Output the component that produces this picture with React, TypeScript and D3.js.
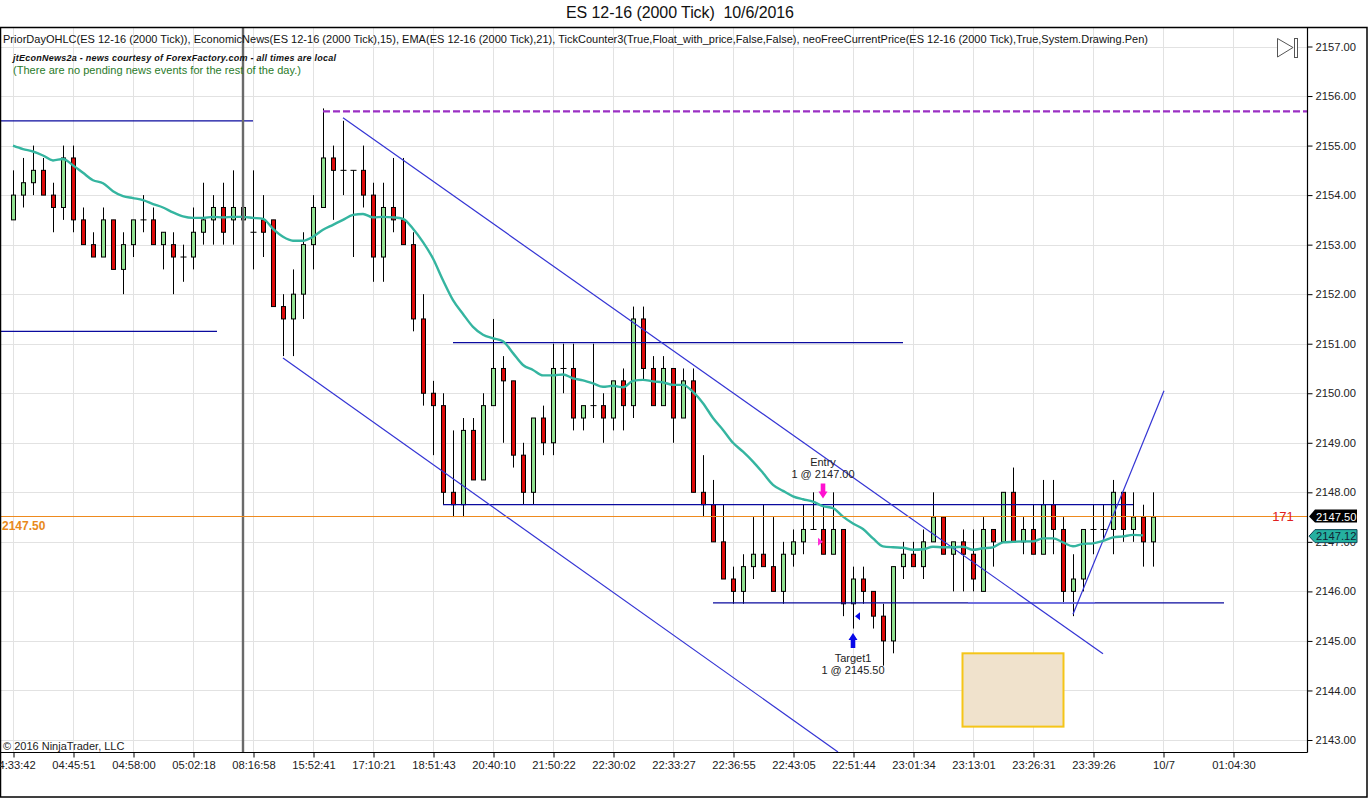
import React, { useEffect, useRef } from "react";
import * as d3 from "d3";

const opens = [2153.5,2154,2154.25,2154.5,2154,2153.75,2154.75,2153.5,2153,2152.75,2153.5,2152.5,2153,2153.5,2153.5,2153,2153,2152.75,2152.75,2153.25,2153.5,2153.75,2153.5,2153.5,2153.25,2153.5,2153.5,2151.75,2151.5,2152,2153,2153.75,2154.75,2154.5,2154.5,2154.5,2154,2152.75,2153.75,2153.5,2153,2151.5,2150,2149.75,2148,2147.75,2149.25,2148.25,2149.75,2150.5,2150.25,2148.75,2148,2149.5,2149,2150.5,2150.5,2149.5,2149.75,2149.75,2149.5,2150.25,2149.75,2151.5,2150.5,2149.75,2150.5,2149.5,2150.25,2148,2147.75,2147,2146.25,2146,2146.5,2146.75,2146.5,2146,2146.75,2147,2147.25,2147.25,2146.75,2147.25,2145.75,2146.25,2146,2145.5,2145,2146.5,2146.75,2146.5,2147,2147.5,2146.75,2147,2146.75,2146,2147.25,2147,2148,2147,2147.25,2146.75,2147.75,2147.25,2146,2146.25,2147.25,2147.25,2147.25,2148,2147.25,2147.5,2147];
const highs = [2154.5,2154.75,2155,2154.75,2154.25,2155,2155,2153.75,2153.25,2153.75,2153.5,2153.25,2153.5,2154,2153.75,2153.25,2153.25,2153,2153.75,2154.25,2154,2154.25,2154.5,2154.25,2154.5,2154,2153.5,2152,2152.5,2153.25,2154,2155.75,2155,2155.5,2154.5,2155,2154.25,2154.25,2154.75,2154.75,2153.25,2152,2150.25,2150,2149.25,2149.5,2149.5,2150,2151.5,2150.75,2150.25,2149,2149.5,2149.75,2151,2151,2151,2149.75,2151,2150,2150.25,2150.5,2151.75,2151.75,2150.75,2150.75,2150.5,2150.5,2150.5,2148.75,2148.25,2147.75,2146.5,2146.75,2147.5,2147.75,2147.5,2147,2147.25,2147.75,2148,2147.75,2148,2147.25,2146.5,2146.5,2146,2145.75,2146.5,2147,2147,2147.25,2148,2147.5,2147,2147.25,2147.25,2147.5,2147.25,2148,2148.5,2147.5,2147.75,2148.25,2148.25,2147.5,2146.75,2147.25,2147.75,2147.75,2148.25,2148,2148,2147.75,2148];
const lows = [2153.5,2153.75,2154,2154,2153.25,2153.5,2153.25,2153,2152.75,2152.75,2152.5,2152,2152.75,2153.25,2153,2152.5,2152,2152.25,2152.5,2153,2153,2153,2153,2153,2152.5,2152.75,2151.75,2150.75,2150.75,2151.5,2152.5,2153.75,2153.5,2154,2152.75,2153.75,2152.25,2152.25,2153.25,2153,2151.25,2149.75,2148.75,2147.75,2147.5,2147.5,2148.25,2148.25,2149.75,2149,2148.5,2147.75,2147.75,2148.75,2148.75,2150,2149.25,2149.25,2149.5,2149,2149.25,2149.25,2149.5,2150.25,2149.75,2149.75,2149,2149.5,2148,2147.5,2147,2146.25,2145.75,2145.75,2146.25,2146.5,2146,2145.75,2146.5,2146.75,2147.25,2146.75,2146.75,2145.5,2145.25,2145.75,2145.25,2144.5,2144.75,2146.25,2146.5,2146.25,2147,2146.75,2146,2146,2146,2146,2146.5,2147,2147,2146.75,2146.75,2146.75,2146.75,2145.75,2145.5,2146,2146.75,2147,2146.75,2147,2147,2146.5,2146.5];
const closes = [2154,2154.25,2154.5,2154,2153.75,2154.75,2153.5,2153,2152.75,2153.5,2152.5,2153,2153.5,2153.5,2153,2153.25,2152.75,2152.75,2153.25,2153.5,2153.75,2153.25,2153.75,2153.75,2153.25,2153.25,2151.75,2151.5,2152,2153,2153.75,2154.75,2154.5,2154.5,2154.5,2154,2152.75,2153.75,2153.5,2153,2151.5,2150,2149.75,2148,2147.75,2149.25,2148.25,2149.75,2150.5,2150.25,2148.75,2148,2149.5,2149,2150.5,2150.5,2149.5,2149.75,2149.75,2149.5,2150.25,2149.75,2151.5,2150.5,2149.75,2150.5,2149.5,2150.25,2148,2147.75,2147,2146.25,2146,2146.5,2146.75,2146.5,2146,2146.75,2147,2147.25,2147.25,2146.75,2147.25,2145.75,2146.25,2146,2145.5,2145,2146.5,2146.75,2146.5,2147,2147.5,2146.75,2147,2146.75,2146.25,2147.25,2147,2148,2147,2147.25,2146.75,2147.75,2147.25,2146,2146.25,2147.25,2147.25,2147.25,2148,2147.25,2147.5,2147,2147.5];
const ema = [2155,2154.93,2154.88,2154.8,2154.7,2154.73,2154.6,2154.45,2154.3,2154.24,2154.08,2153.98,2153.94,2153.9,2153.82,2153.75,2153.65,2153.57,2153.54,2153.54,2153.56,2153.55,2153.56,2153.56,2153.54,2153.52,2153.32,2153.16,2153.08,2153.08,2153.16,2153.3,2153.4,2153.5,2153.6,2153.62,2153.55,2153.56,2153.55,2153.52,2153.32,2153.05,2152.72,2152.28,2151.88,2151.6,2151.34,2151.18,2151.11,2151.05,2150.81,2150.57,2150.47,2150.36,2150.36,2150.38,2150.3,2150.26,2150.2,2150.13,2150.15,2150.12,2150.25,2150.27,2150.24,2150.22,2150.17,2150.17,2150.03,2149.8,2149.5,2149.26,2149,2148.82,2148.62,2148.39,2148.15,2148.03,2147.92,2147.86,2147.81,2147.72,2147.68,2147.51,2147.37,2147.26,2147.07,2146.91,2146.89,2146.88,2146.84,2146.85,2146.9,2146.89,2146.89,2146.9,2146.84,2146.87,2146.89,2146.99,2147,2147.01,2147.01,2147.07,2147.07,2146.99,2146.91,2146.96,2146.97,2147.02,2147.09,2147.11,2147.14,2147.13];
const timeLabels = ["04:33:42","04:45:51","04:58:00","05:02:18","08:16:58","15:52:41","17:10:21","18:51:43","20:40:10","21:50:22","22:30:02","22:33:27","22:36:55","22:43:05","22:51:44","23:01:34","23:13:01","23:26:31","23:39:26","10/7","01:04:30"];
const timeIndex = [0,6,12,18,24,30,36,42,48,54,60,66,72,78,84,90,96,102,108,115,122];
const priceTicks = [2143,2144,2145,2146,2147,2148,2149,2150,2151,2152,2153,2154,2155,2156,2157];

// drawn objects: [bar index from, price from, bar index to, price to]
const navyLevels = [[-1.3,2155.5,24,2155.5],[-1.3,2151.25,20.4,2151.25],[44,2151.02,89,2151.02],[43,2147.75,112,2147.75],[70,2145.77,121.1,2145.77]];
const paleLevels = [[95.5,2145.77,108.2,2145.77]];
const channelLines = [[33,2155.56,109,2144.74],[27,2150.71,82.5,2142.76],[106,2145.54,115.1,2150.05]];
const priorHigh = [31,2155.69,129.4,2155.69];
const zone = [94.95,2144.75,105.05,2143.27];
const sessionBreak = 23;
const lastPrice = 2147.5;
const emaPrice = 2147.12;

const infoLine = "PriorDayOHLC(ES 12-16 (2000 Tick)), EconomicNews(ES 12-16 (2000 Tick),15), EMA(ES 12-16 (2000 Tick),21), TickCounter3(True,Float_with_price,False,False), neoFreeCurrentPrice(ES 12-16 (2000 Tick),True,System.Drawing.Pen)";
const newsLine = "jtEconNews2a - news courtesy of ForexFactory.com - all times are local";
const pendingLine = "(There are no pending news events for the rest of the day.)";

const W = 1368, H = 798;
const L = 0.5, T = 27.5, R = 1307.5, B = 752.5;
const FONT = "'Liberation Sans', Arial, sans-serif";

const x = d3.scaleLinear().domain([0, 122]).range([13, 1233]);
const y = d3.scaleLinear().domain([2143, 2157]).range([740, 46.5]);

const linePath = d3.line<number>().x((_, i) => x(i)).y((d) => y(d)).curve(d3.curveMonotoneX);

export default function App() {
  const rightAxis = useRef<SVGGElement>(null);
  const bottomAxis = useRef<SVGGElement>(null);

  useEffect(() => {
    const style = (g: any) => {
      g.selectAll(".tick line").attr("stroke", "#000");
      g.selectAll(".tick text").attr("fill", "#222").style("font", `11.2px ${FONT}`);
    };
    d3.select(rightAxis.current!)
      .call(d3.axisRight(y).tickValues(priceTicks).tickFormat((d) => (d as number).toFixed(2)).tickSize(5).tickPadding(3).tickSizeOuter(0))
      .call(style)
      .select(".domain").remove();
    d3.select(bottomAxis.current!)
      .call(d3.axisBottom(x).tickValues(timeIndex).tickFormat((_, i) => timeLabels[i]).tickSize(5).tickPadding(4).tickSizeOuter(0))
      .call(style)
      .select(".domain").remove();
  }, []);

  const seg = (s: number[], k: string, stroke: string, sw: number, dash?: string) => (
    <line key={k} x1={x(s[0])} y1={y(s[1])} x2={x(s[2])} y2={y(s[3])} stroke={stroke} strokeWidth={sw} strokeDasharray={dash} />
  );

  const downArrow = (cx: number, tip: number) => `M${cx},${tip}l-4.5,-7h2.2v-8h4.6v8h2.2z`;
  const upArrow = (cx: number, tip: number) => `M${cx},${tip}l-4.5,7h2.2v8h4.6v-8h2.2z`;

  return (
    <div style={{ position: "fixed", left: 0, top: 0, width: W, height: H, background: "#fff" }}>
      <svg width={W} height={H} style={{ display: "block", fontFamily: FONT }}>
        <defs>
          <clipPath id="plot"><rect x={L} y={T} width={R - L} height={B - T} /></clipPath>
        </defs>
        <rect width={W} height={H} fill="#fff" />
        <text x={680} y={18} textAnchor="middle" fontSize={16} fill="#111" textLength={228} lengthAdjust="spacing" style={{ whiteSpace: "pre" }}>ES 12-16 (2000 Tick)  10/6/2016</text>

        <g clipPath="url(#plot)">
          {priceTicks.map((p) => (
            <line key={p} x1={L} x2={R} y1={Math.round(y(p)) + 0.5} y2={Math.round(y(p)) + 0.5} stroke="#e2e2e2" />
          ))}
          {timeIndex.map((i) => (
            <line key={i} x1={x(i) + 0.5} x2={x(i) + 0.5} y1={T} y2={B} stroke="#e2e2e2" />
          ))}
          <rect x={x(zone[0])} y={y(zone[1])} width={x(zone[2]) - x(zone[0])} height={y(zone[3]) - y(zone[1])} fill="#f0e2cc" stroke="#f5c518" strokeWidth={2} />

          {opens.map((o, i) => {
            const c = closes[i];
            const cx = Math.round(x(i)) + 0.5;
            const top = y(Math.max(o, c));
            const bot = y(Math.min(o, c));
            return (
              <g key={i}>
                <line x1={cx} x2={cx} y1={y(highs[i])} y2={y(lows[i])} stroke="#000" />
                {o === c ? (
                  <line x1={cx - 3} x2={cx + 3} y1={top} y2={top} stroke="#000" />
                ) : (
                  <rect x={cx - 2} y={top} width={4} height={bot - top} fill={c > o ? "#90e090" : "#dc0a0a"} stroke="#000" />
                )}
              </g>
            );
          })}

          {navyLevels.map((s, i) => seg(s, `n${i}`, "#0a0a9e", 1.2))}
          {paleLevels.map((s, i) => seg(s, `p${i}`, "#6c6ce0", 1.8))}
          {channelLines.map((s, i) => seg(s, `c${i}`, "#3434d4", 1.2))}
          {seg(priorHigh, "ph", "#9b2fc4", 2.4, "7 3")}
          <path d={linePath(ema) ?? ""} fill="none" stroke="#35b5a0" strokeWidth={2.4} />
          <line x1={x(sessionBreak)} x2={x(sessionBreak)} y1={T} y2={B} stroke="#6a6a6a" strokeWidth={2.4} />
          <line x1={L} x2={R} y1={516.5} y2={516.5} stroke="#ee8a1e" />

          <path d={downArrow(x(81), 498.5)} fill="#ff10d0" />
          <path d={`M${x(80.6)},${y(2147)}l5,-4v8z`} fill="#ff30d8" transform={`rotate(180 ${x(80.6) + 2},${y(2147)})`} />
          <path d={upArrow(x(84), 633)} fill="#0808e8" />
          <path d={`M${x(84) + 2},${y(2145.5)}l5,-4v8z`} fill="#0808e8" />
        </g>

        <g fontSize={11} fill="#222" textAnchor="middle">
          <text x={x(81)} y={466}>Entry</text>
          <text x={x(81)} y={478}>1 @ 2147.00</text>
          <text x={x(84)} y={662}>Target1</text>
          <text x={x(84)} y={674}>1 @ 2145.50</text>
        </g>

        <text x={3} y={43} fontSize={11} fill="#111" textLength={1145} lengthAdjust="spacing">{infoLine}</text>
        <text x={13} y={61} fontSize={9} fontStyle="italic" fontWeight="bold" fill="#111" textLength={323} lengthAdjust="spacing">{newsLine}</text>
        <text x={13} y={74} fontSize={11} fill="#2a7a2a" textLength={288} lengthAdjust="spacing">{pendingLine}</text>
        <text x={2} y={530} fontSize={12} fontWeight="bold" fill="#e8891a">2147.50</text>
        <text x={1283} y={521} fontSize={13} fill="#e02020" textAnchor="middle">171</text>
        <text x={3} y={750} fontSize={11} fill="#222">© 2016 NinjaTrader, LLC</text>

        <g fill="#fff" stroke="#555">
          <path d="M1277.5,38.5L1293,47.5L1277.5,57z" />
          <rect x={1294.5} y={38.5} width={3} height={19} />
        </g>

        <rect x={0.5} y={T} width={W - 1.5} height={H - T - 1} fill="none" stroke="#000" strokeWidth={1.5} />
        <line x1={R} x2={R} y1={T} y2={B} stroke="#000" strokeWidth={1.2} />
        <line x1={0} x2={R} y1={B} y2={B} stroke="#000" strokeWidth={1.2} />

        <g ref={rightAxis} transform={`translate(${R},0)`} />
        <g ref={bottomAxis} transform={`translate(0.5,${B})`} />

        <path d={`M1309,${y(lastPrice) - 0.5}l6,-7h42v13h-42z`} fill="#000" />
        <text x={1316} y={y(lastPrice) + 3.5} fontSize={11.2} fill="#fff">{lastPrice.toFixed(2)}</text>
        <path d={`M1309,${y(emaPrice) + 0.2}l6,-6.5h42v13h-42z`} fill="#25b0a0" stroke="#145" />
        <text x={1316} y={y(emaPrice) + 4.5} fontSize={11.2} fill="#123">{emaPrice.toFixed(2)}</text>
      </svg>
    </div>
  );
}
